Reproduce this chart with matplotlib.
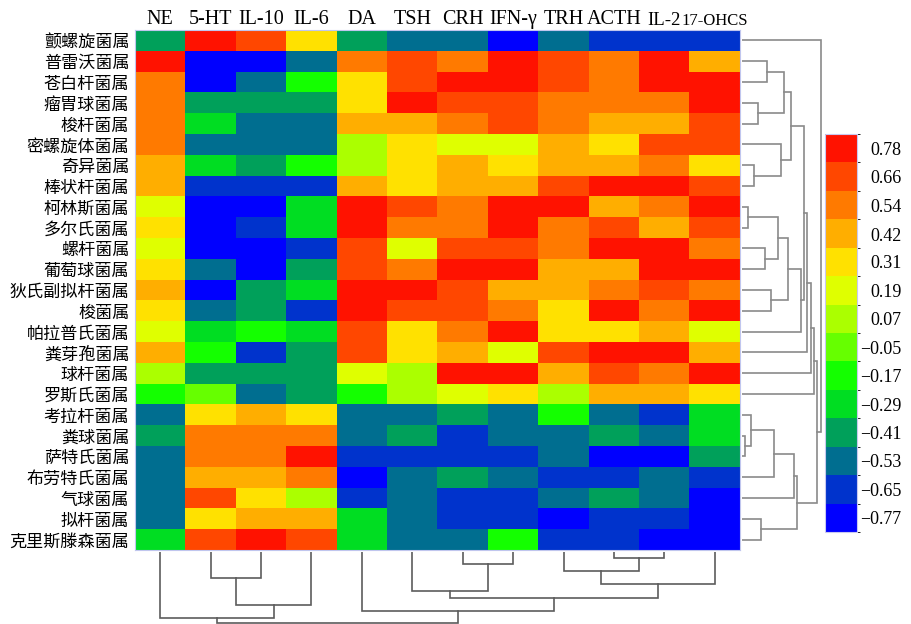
import matplotlib
matplotlib.use("Agg")
import matplotlib.pyplot as plt
import numpy as np
from matplotlib.colors import ListedColormap, BoundaryNorm

# ---------------- data ----------------
columns = ["NE", "5-HT", "IL-10", "IL-6", "DA", "TSH", "CRH", "IFN-γ", "TRH", "ACTH", "IL-2", "17-OHCS"]
rows = ["颤螺旋菌属", "普雷沃菌属", "苍白杆菌属", "瘤胃球菌属", "梭杆菌属", "密螺旋体菌属",
        "奇异菌属", "棒状杆菌属", "柯林斯菌属", "多尔氏菌属", "螺杆菌属", "葡萄球菌属",
        "狄氏副拟杆菌属", "梭菌属", "帕拉普氏菌属", "粪芽孢菌属", "球杆菌属", "罗斯氏菌属",
        "考拉杆菌属", "粪球菌属", "萨特氏菌属", "布劳特氏菌属", "气球菌属", "拟杆菌属",
        "克里斯滕森菌属"]

level_values = [-0.77, -0.65, -0.53, -0.41, -0.29, -0.17, -0.05, 0.07, 0.19, 0.31, 0.42, 0.54, 0.66, 0.78]
level_labels = ["−0.77", "−0.65", "−0.53", "−0.41", "−0.29", "−0.17", "−0.05",
                "0.07", "0.19", "0.31", "0.42", "0.54", "0.66", "0.78"]
level_colors = ["#0000FF", "#0033CC", "#006E90", "#00A05A", "#00DD22", "#14FF00", "#66FF00",
                "#ABFF00", "#DFFF00", "#FFE100", "#FFAE00", "#FF7A00", "#FF4700", "#FF1200"]

R, RO, O, A, Y, YG, L = 0.78, 0.66, 0.54, 0.42, 0.31, 0.19, 0.07
G1, G2, G3, G4, T, B1, B = -0.05, -0.17, -0.29, -0.41, -0.53, -0.65, -0.77

r_ne    = [G4, R, O, O, O, O, A, A, YG, Y, YG, Y, A, Y, YG, A, L, G2, T, G4, T, T, T, T, G3]
r_5ht   = [R, B, B, G4, G3, T, G3, B1, B, B, B, T, B, T, G3, G2, G4, G1, Y, O, O, A, RO, Y, RO]
r_il10  = [RO, B, T, G4, T, T, G4, B1, B, B1, B, B, G4, G4, G2, B1, G4, T, A, O, O, A, Y, A, R]
r_il6   = [Y, T, G2, G4, T, T, G2, B1, G3, G3, B1, G4, G3, B1, G3, G4, G4, G4, Y, O, R, O, L, A, RO]
r_da    = [G4, O, Y, Y, A, L, L, A, R, R, RO, RO, R, R, RO, RO, YG, G2, T, T, B1, B, B1, G3, G3]
r_tsh   = [T, RO, RO, R, A, Y, Y, Y, RO, O, YG, O, R, RO, Y, Y, L, L, T, G4, B1, T, T, T, T]
r_crh   = [T, O, R, RO, O, YG, A, A, O, O, RO, R, RO, RO, O, A, R, YG, G4, B1, B1, G4, B1, B1, T]
r_ifn   = [B, R, R, RO, RO, YG, Y, A, R, R, RO, R, A, O, R, YG, R, Y, T, T, B1, T, B1, B1, G2]
r_trh   = [T, RO, RO, O, O, A, A, RO, R, O, O, A, A, Y, Y, RO, A, L, G2, T, T, B1, T, B, B1]
r_acth  = [B1, O, O, O, A, Y, A, R, A, RO, R, A, O, R, Y, R, RO, A, T, G4, B, B1, G4, B1, B1]
r_il2   = [B1, R, R, O, A, RO, O, R, O, A, R, R, RO, O, A, R, O, A, B1, T, B, T, T, B1, B]
r_17    = [B1, A, R, R, RO, RO, Y, RO, R, RO, O, R, O, R, YG, A, R, Y, G3, G3, G4, B1, B, B, B]

# dendrogram merges: (left node, right node, height); leaves 0..n-1, new clusters n, n+1, ...
row_merges = [(19, 20, 3.0), (8, 9, 5.7), (18, 25, 9.0), (6, 7, 12.3), (3, 4, 15.7),
              (23, 24, 19.0), (10, 11, 23.0), (1, 2, 25.3), (12, 13, 29.0), (27, 21, 32.3),
              (26, 31, 35.7), (5, 28, 38.7), (32, 29, 42.3), (35, 33, 45.7), (37, 36, 48.7),
              (34, 22, 52.3), (40, 30, 55.3), (38, 14, 58.7), (39, 42, 62.0), (43, 15, 65.3),
              (44, 16, 69.0), (45, 17, 72.0), (46, 41, 75.3), (0, 47, 79.0)]
col_merges = [(9, 10, 5.7), (6, 7, 12.3), (8, 12, 19.0), (1, 2, 26.0), (14, 11, 32.3),
              (5, 13, 39.0), (17, 16, 45.7), (15, 3, 53.0), (4, 18, 59.0), (0, 19, 65.7),
              (21, 20, 71.3)]

data = np.array([r_ne, r_5ht, r_il10, r_il6, r_da, r_tsh, r_crh, r_ifn, r_trh, r_acth, r_il2, r_17]).T

# ---------------- figure ----------------
W, H = 912, 624
fig = plt.figure(figsize=(W / 100, H / 100), dpi=100)

def ax_px(x0, y0, x1, y1):
    return fig.add_axes([x0 / W, 1 - y1 / H, (x1 - x0) / W, (y1 - y0) / H])

cmap = ListedColormap(level_colors)
step = 0.12
bounds = [level_values[0] - step / 2] + [(a + b) / 2 for a, b in zip(level_values[:-1], level_values[1:])] + [level_values[-1] + step / 2]
norm = BoundaryNorm(bounds, cmap.N)

hm = ax_px(135, 30, 740, 550)
hm.imshow(data, cmap=cmap, norm=norm, aspect="auto", interpolation="nearest")
hm.set_xticks(range(len(columns)))
hm.set_xticklabels(columns, fontfamily="Liberation Serif", fontsize=14.5)
hm.xaxis.tick_top()
xl = hm.get_xticklabels()
xl[-1].set_fontsize(12)
xl[-2].set_fontsize(13.5)
hm.set_yticks(range(len(rows)))
hm.set_yticklabels(rows, fontfamily=["Noto Sans CJK SC", "DejaVu Sans"], fontsize=12.3)
hm.tick_params(axis="x", length=0, pad=1)
hm.tick_params(axis="y", length=0, pad=4)
for s in hm.spines.values():
    s.set_color("#c0c6ee")
    s.set_linewidth(0.8)

def draw_dendro(ax, merges, n, horizontal, color):
    pos = list(range(n))
    hgt = [0.0] * n
    for a, b, h in merges:
        p1, p2 = pos[a], pos[b]
        h1, h2 = hgt[a], hgt[b]
        if horizontal:
            ax.plot([h1, h, h, h2], [p1, p1, p2, p2], color=color, lw=1.2, solid_joinstyle="miter")
        else:
            ax.plot([p1, p1, p2, p2], [h1, h, h, h2], color=color, lw=1.2, solid_joinstyle="miter")
        pos.append((p1 + p2) / 2)
        hgt.append(h)

rd = ax_px(742, 30, 825, 550)
draw_dendro(rd, row_merges, len(rows), True, "#8a8a8a")
rd.set_xlim(0, 83)
rd.set_ylim(len(rows) - 0.5, -0.5)
rd.axis("off")

cd = ax_px(135, 552, 740, 624)
draw_dendro(cd, col_merges, len(columns), False, "#5c5c5c")
cd.set_xlim(-0.5, len(columns) - 0.5)
cd.set_ylim(72, 0)
cd.axis("off")

cax = ax_px(825, 134, 857, 532)
sm = matplotlib.cm.ScalarMappable(cmap=cmap, norm=norm)
cb = fig.colorbar(sm, cax=cax, ticks=level_values)
cb.ax.set_yticklabels(level_labels, fontfamily="Liberation Serif", fontsize=13)
cb.ax.tick_params(length=0, pad=32)
for lab in cb.ax.get_yticklabels():
    lab.set_horizontalalignment("right")
cb.outline.set_edgecolor("#c8c8f0")
cb.outline.set_linewidth(0.8)

fig.savefig("out.png", dpi=100)
